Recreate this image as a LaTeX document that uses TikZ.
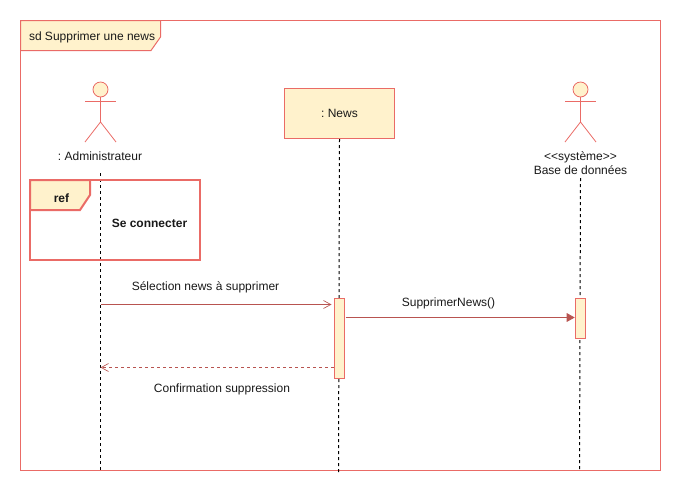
\documentclass[tikz,border=0pt]{standalone}
\usepackage{fontspec}
\setmainfont{Liberation Sans}
\usepackage{tikz}
\usetikzlibrary{arrows.meta}

\definecolor{umlline}{HTML}{EA6B66}
\definecolor{umlfill}{HTML}{FFF2CC}
\definecolor{umlmsg}{HTML}{B85450}

\begin{document}
\begin{tikzpicture}[x=.75pt,y=-.75pt,line width=.75pt,
  every node/.style={font=\fontsize{9}{10.5}\selectfont,text=black!90,inner sep=0pt},
  umlshape/.style={draw=umlline,fill=umlfill},
  lifeline/.style={draw=black,dash pattern=on 2.25pt off 2.25pt},
  activ/.style={umlshape,minimum width=7.9pt,minimum height=#1},
  msgline/.style={draw=umlmsg},
  openhead/.style={-{Straight Barb[length=5.5pt,width=6pt,line width=.5pt]}},
  fullhead/.style={-{Triangle[length=6pt,width=6.5pt]}}]
  \useasboundingbox (0,0) rectangle (681,494);

  % outer frame
  \draw[draw=umlline] (20.5,20.5) rectangle (660.5,470.5);
  \draw[umlshape] (20.5,20.5) -- (160.5,20.5) -- (160.5,37) -- (151,50.5) -- (20.5,50.5) -- cycle;
  \node[anchor=west] (frameLab) at (28.5,37.5) {sd Supprimer une news};

  % lifelines
  \coordinate (adminTop) at (100.5,173);
  \coordinate (adminEnd) at (100.5,470);
  \coordinate (newsEnd) at (338.5,472);
  \coordinate (baseTop) at (580.5,178);
  \coordinate (baseEnd) at (579.5,470);
  \node[umlshape,minimum width=82.5pt,minimum height=37.5pt] (news) at (339.5,113.5) {:~News};
  \draw[lifeline] (adminTop) -- (adminEnd);
  \draw[lifeline] (news.south) -- (newsEnd);
  \draw[lifeline] (baseTop) -- (baseEnd);

  % actors
  \foreach \x/\n in {100.5/admin,580.5/base} {
    \node[umlshape,circle,line width=.6pt,minimum size=11.25pt] (\n Head) at (\x,89.5) {};
    \draw[umlline,line width=.6pt] (\n Head.south) -- (\x,122);
    \draw[umlline,line width=.6pt] (\x-15.5,101.5) -- (\x+15.5,101.5);
    \draw[umlline,line width=.6pt] (\x-15.5,142) -- (\x,122) -- (\x+15.5,142);
  }
  \node (adminLab) at (100,156.5) {:~Administrateur};
  \node[align=center] (baseLab) at (580.5,163.5) {{<}{<}système{>}{>}\\Base de données};

  % ref fragment
  \draw[draw=umlline,line width=1.5pt] (30,180) rectangle (200,260);
  \draw[umlshape,line width=1.5pt] (30,180) -- (90,180) -- (90,195) -- (80,210) -- (30,210) -- cycle;
  \node[font=\fontsize{9}{10.5}\selectfont\bfseries] (refLab) at (61.5,198) {ref};
  \node[font=\fontsize{9}{10.5}\selectfont\bfseries] (refText) at (149.5,223) {Se connecter};

  % activations
  \node[activ=60pt] (newsAct) at (339.5,338.5) {};
  \node[activ=30pt] (baseAct) at (580.5,318.5) {};

  % messages
  \coordinate (sel) at (100.5,304.5);
  \coordinate (selEnd) at (331.5,304.5);
  \coordinate (delStart) at (345.5,317.5);
  \coordinate (conf) at (100.5,367.5);
  \draw[msgline,openhead] (sel) -- (selEnd);
  \draw[msgline,fullhead] (delStart) -- (baseAct.west |- delStart);
  \draw[msgline,openhead,dash pattern=on 2.25pt off 2.25pt] (newsAct.west |- conf) -- (conf);
  \node (selLab) at (205.5,287) {Sélection news à supprimer};
  \node (delLab) at (448.5,303) {SupprimerNews()};
  \node (confLab) at (222,389) {Confirmation suppression};
\end{tikzpicture}
\end{document}
